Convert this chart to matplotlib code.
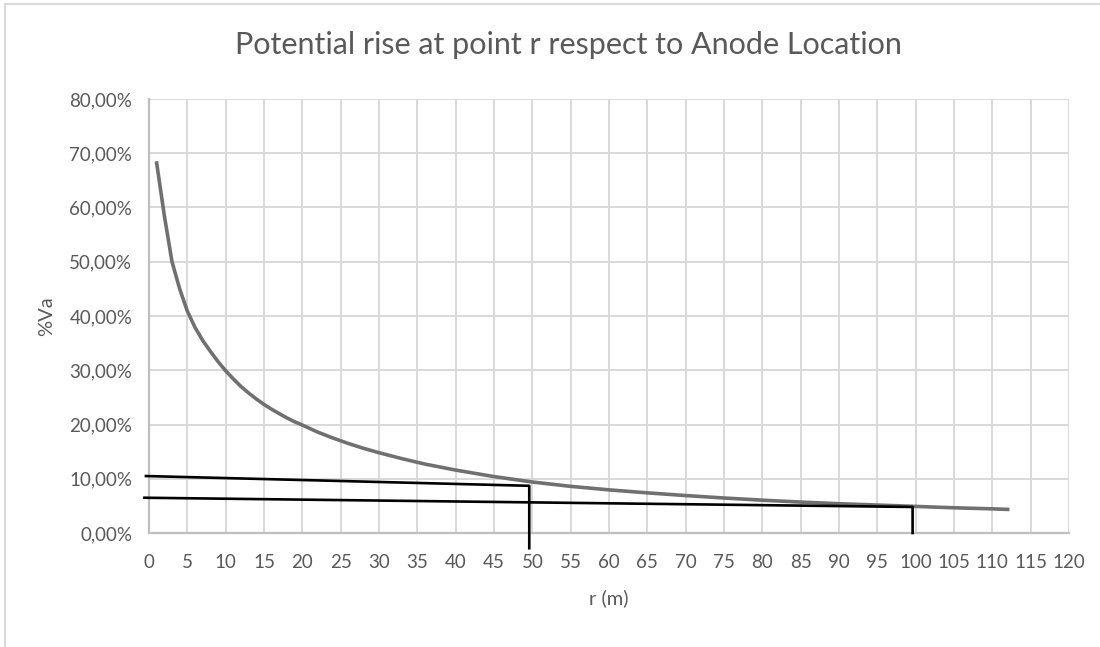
import matplotlib.pyplot as plt
from matplotlib.lines import Line2D
from matplotlib.ticker import FuncFormatter, MultipleLocator

plt.rcParams['font.family'] = ['Lato', 'DejaVu Sans']

# distance from anode (m) and potential rise (% of Va)
r_m = [1, 2, 3, 4, 5, 6, 7, 8, 9, 10, 11, 12, 13, 14, 15, 16, 17, 18,
       19, 20, 22, 24, 26, 28, 30, 33, 36, 40, 45, 50, 55, 60, 65, 70,
       75, 80, 85, 90, 95, 100, 105, 110, 112]
va_pct = [68.2, 58.5, 50.0, 45.0, 40.9, 37.9, 35.5, 33.5, 31.6, 29.9,
          28.4, 27.0, 25.8, 24.7, 23.7, 22.8, 22.0, 21.2, 20.5, 19.9,
          18.6, 17.5, 16.5, 15.6, 14.8, 13.7, 12.7, 11.6, 10.4, 9.4,
          8.6, 7.95, 7.4, 6.9, 6.45, 6.05, 5.7, 5.4, 5.15, 4.9, 4.65,
          4.45, 4.35]

# hand-drawn marker lines (r, %Va)
mark50_r = [-0.4, 49.6, 49.6]
mark50_v = [10.5, 8.7, -2.8]
mark100_r = [-0.6, 99.6, 99.6]
mark100_v = [6.5, 4.8, 0.0]

title = "Potential rise at point r respect to Anode Location"
text_col = "#595959"
grid_col = "#d9d9d9"

fig = plt.figure(figsize=(11, 6.47), dpi=100)
ax = fig.add_axes([149 / 1100, 1 - 533 / 647, 920 / 1100, 434 / 647])

ax.plot(r_m, [v / 100 for v in va_pct], color="#707070", lw=2.6,
        solid_joinstyle="round", zorder=3)
ax.plot(mark50_r, [v / 100 for v in mark50_v], color="black", lw=1.9,
        clip_on=False, zorder=4)
ax.plot(mark100_r, [v / 100 for v in mark100_v], color="black", lw=1.9,
        clip_on=False, zorder=4)

ax.set_xlim(0, 120)
ax.set_ylim(0, 0.8)
ax.xaxis.set_major_locator(MultipleLocator(5))
ax.yaxis.set_major_locator(MultipleLocator(0.1))
ax.yaxis.set_major_formatter(
    FuncFormatter(lambda v, _: f"{v * 100:.2f}%".replace(".", ",")))

ax.grid(True, color=grid_col, lw=1.4, zorder=0)
ax.set_axisbelow(True)
for side in ("top", "right"):
    ax.spines[side].set_visible(False)
for side in ("bottom", "left"):
    ax.spines[side].set_color("#bfbfbf")
    ax.spines[side].set_linewidth(1.6)
ax.tick_params(length=0, labelsize=13.5, labelcolor=text_col)
ax.tick_params(axis="x", pad=15)
ax.tick_params(axis="y", pad=12)

ax.set_xlabel("r (m)", fontsize=14.5, color=text_col, labelpad=13)
ax.set_ylabel("%Va", fontsize=14.5, color=text_col, labelpad=10)

fig.text(568 / 1100, 1 - 45 / 647, title, fontsize=22, color=text_col,
         ha="center", va="center")

# chart area border (cut off at right and bottom)
fig.add_artist(Line2D([5 / 1100, 1], [1 - 4 / 647, 1 - 4 / 647],
                      transform=fig.transFigure, color="#d9d9d9", lw=1.5))
fig.add_artist(Line2D([5 / 1100, 5 / 1100], [0, 1 - 4 / 647],
                      transform=fig.transFigure, color="#d9d9d9", lw=1.5))

fig.savefig("out.png", dpi=100)
